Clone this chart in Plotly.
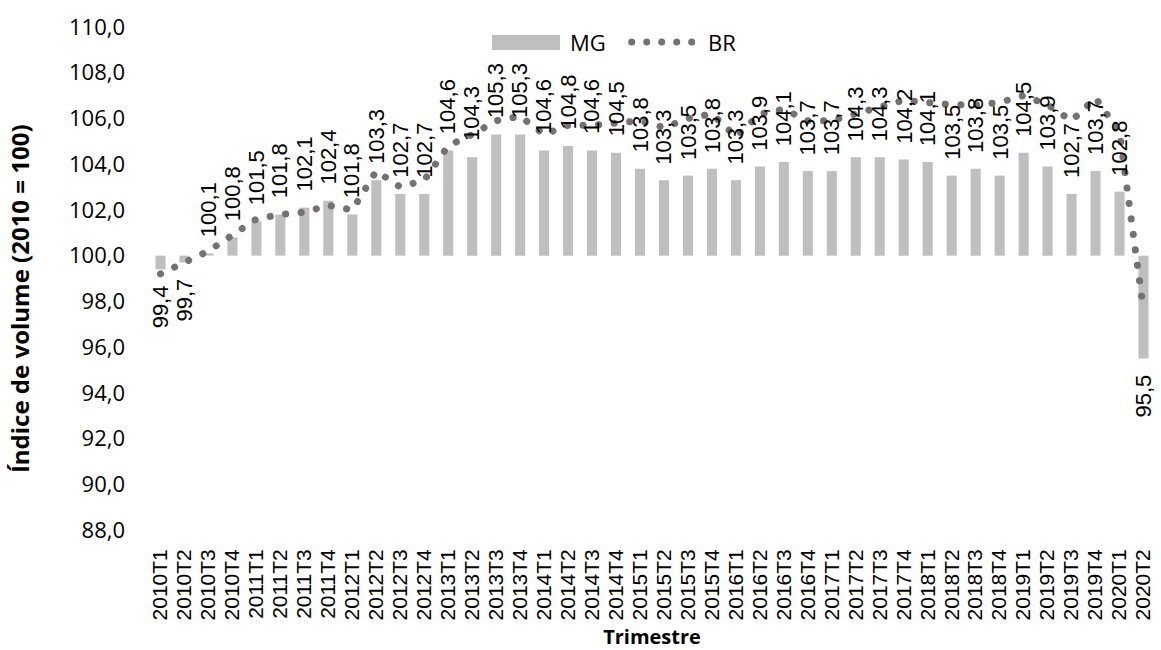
import plotly.graph_objects as go

# Quarterly volume index (2010 = 100)
quarters = [
    "2010T1", "2010T2", "2010T3", "2010T4",
    "2011T1", "2011T2", "2011T3", "2011T4",
    "2012T1", "2012T2", "2012T3", "2012T4",
    "2013T1", "2013T2", "2013T3", "2013T4",
    "2014T1", "2014T2", "2014T3", "2014T4",
    "2015T1", "2015T2", "2015T3", "2015T4",
    "2016T1", "2016T2", "2016T3", "2016T4",
    "2017T1", "2017T2", "2017T3", "2017T4",
    "2018T1", "2018T2", "2018T3", "2018T4",
    "2019T1", "2019T2", "2019T3", "2019T4",
    "2020T1", "2020T2",
]

mg = [
    99.4, 99.7, 100.1, 100.8,
    101.5, 101.8, 102.1, 102.4,
    101.8, 103.3, 102.7, 102.7,
    104.6, 104.3, 105.3, 105.3,
    104.6, 104.8, 104.6, 104.5,
    103.8, 103.3, 103.5, 103.8,
    103.3, 103.9, 104.1, 103.7,
    103.7, 104.3, 104.3, 104.2,
    104.1, 103.5, 103.8, 103.5,
    104.5, 103.9, 102.7, 103.7,
    102.8, 95.5,
]

br = [
    99.2, 99.7, 100.2, 100.9,
    101.6, 101.8, 101.9, 102.2,
    102.0, 103.7, 103.0, 103.3,
    104.8, 105.3, 105.9, 106.1,
    105.3, 105.7, 105.7, 105.8,
    105.9, 105.6, 106.0, 106.2,
    105.2, 106.2, 106.4, 105.9,
    105.9, 106.2, 106.5, 106.8,
    106.7, 106.6, 106.6, 106.7,
    107.0, 106.6, 105.9, 106.9,
    105.4, 97.6,
]

y_ticks = [88, 90, 92, 94, 96, 98, 100, 102, 104, 106, 108, 110]
base_index = 100

BAR_COLOR = "#BFBFBF"
DOT_COLOR = "#767171"
LABEL_FONT = "Liberation Sans, Arial, sans-serif"
AXIS_FONT = "Open Sans, sans-serif"

fig = go.Figure()

# MG bars grow from the base index (100) up or down to each value
fig.add_trace(go.Bar(
    x=quarters,
    y=[v - base_index for v in mg],
    base=base_index,
    marker=dict(color=BAR_COLOR, line=dict(width=0)),
    name="MG",
    customdata=mg,
    hovertemplate="%{x}: %{customdata:.1f}<extra>MG</extra>",
    showlegend=False,
))

# BR as a dotted line
fig.add_trace(go.Scatter(
    x=quarters,
    y=br,
    mode="lines",
    line=dict(color=DOT_COLOR, width=7),
    name="BR",
    showlegend=False,
))

# Value labels on the MG bars
annotations = []
for q, v in zip(quarters, mg):
    above = v >= base_index
    annotations.append(dict(
        x=q, y=v, xref="x", yref="y",
        text=f"{v:.1f}".replace(".", ","),
        textangle=-90,
        showarrow=False,
        xanchor="center",
        yanchor="bottom" if above else "top",
        yshift=14 if above else -14,
        font=dict(family=LABEL_FONT, size=22, color="black"),
    ))

# Y-axis title
annotations.append(dict(
    x=-0.1255, y=0.461, xref="paper", yref="paper",
    text="<b>Índice de volume (2010 = 100)</b>",
    textangle=-90, showarrow=False,
    xanchor="center", yanchor="middle",
    font=dict(family=AXIS_FONT, size=24, color="black"),
))

# Legend drawn at the top of the plot
annotations.append(dict(
    x=0.417, y=0.970, xref="paper", yref="paper",
    text="MG", showarrow=False, xanchor="left", yanchor="middle",
    font=dict(family=AXIS_FONT, size=22, color="black"),
))
annotations.append(dict(
    x=0.5534, y=0.970, xref="paper", yref="paper",
    text="BR", showarrow=False, xanchor="left", yanchor="middle",
    font=dict(family=AXIS_FONT, size=22, color="black"),
))

shapes = [dict(
    type="rect", xref="paper", yref="paper",
    x0=0.3419, x1=0.4091, y0=0.9543, y1=0.9841,
    fillcolor=BAR_COLOR, line=dict(width=0),
)]
px_w, px_h = 1012.0, 503.0
for cx in [631.7, 646.7, 661.7, 676.7, 691.7]:
    xc = (cx - 146) / px_w
    yc = (530 - 42) / px_h
    r = 3.5
    shapes.append(dict(
        type="circle", xref="paper", yref="paper",
        x0=xc - r / px_w, x1=xc + r / px_w,
        y0=yc - r / px_h, y1=yc + r / px_h,
        fillcolor=DOT_COLOR, line=dict(width=0),
    ))

fig.update_layout(
    width=1161, height=650,
    margin=dict(l=146, r=3, t=27, b=120),
    paper_bgcolor="white",
    plot_bgcolor="white",
    separators=",.",
    bargap=0.58,
    showlegend=False,
    annotations=annotations,
    shapes=shapes,
    xaxis=dict(
        type="category",
        tickmode="array",
        tickvals=quarters,
        ticktext=quarters,
        showgrid=False, zeroline=False, showline=False,
        tickangle=-90,
        ticks="",
        ticklabelstandoff=14,
        tickfont=dict(family=LABEL_FONT, size=21, color="black"),
        title=dict(
            text="<b>Trimestre</b>",
            font=dict(family=AXIS_FONT, size=20, color="black"),
            standoff=11,
        ),
    ),
    yaxis=dict(
        range=[88, 110],
        tickvals=y_ticks,
        tickformat=".1f",
        showgrid=False, zeroline=False, showline=False,
        ticks="",
        ticklabelstandoff=20,
        tickfont=dict(family=AXIS_FONT, size=22, color="black"),
    ),
)

# Round caps with a near-zero dash give the line its round-dot look
post_script = """
var gd = document.getElementById('{plot_id}');
function roundDots() {
  gd.querySelectorAll('.scatterlayer .js-line').forEach(function (p) {
    p.style.strokeLinecap = 'round';
    p.style.strokeDasharray = '0.1px, 15.5px';
  });
}
roundDots();
gd.on('plotly_afterplot', roundDots);
"""

fig.write_html("out.html", post_script=post_script, config={"displayModeBar": False})
